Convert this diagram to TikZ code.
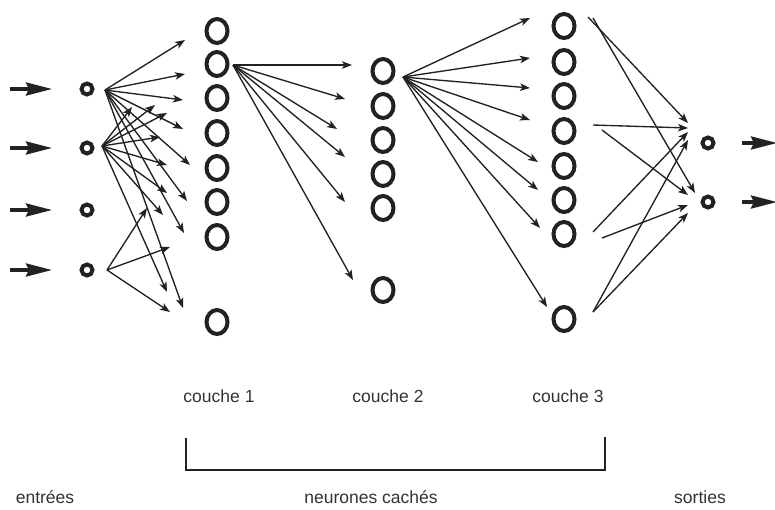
\documentclass[tikz,border=0pt]{standalone}
\usepackage{fontspec}
\setmainfont{Liberation Sans}
\usetikzlibrary{arrows.meta,calc,shapes.geometric}
\definecolor{ink}{HTML}{222222}
\definecolor{txt}{HTML}{333333}
\begin{document}
\begin{tikzpicture}[x=1pt,y=-1pt,
  bigc/.style={draw=ink, ellipse, line width=4pt, minimum width=21pt, minimum height=24pt, inner sep=0pt},
  smallc/.style={draw=ink, circle, line width=4pt, minimum size=11pt, inner sep=0pt},
  arr/.style={draw=ink, line width=1.35pt, -{Stealth[length=10pt,width=7.5pt,inset=2.5pt]}},
  inarr/.style={draw=ink, line width=3.4pt, -{Stealth[length=26pt,width=13pt,inset=3pt]}},
  lab/.style={text=txt, font=\fontsize{17.5}{20}\selectfont, anchor=base, inner sep=0pt},
  brk/.style={draw=ink, line width=1.3pt}]
\useasboundingbox (0,0) rectangle (775,509);
\fill[white] (0,0) rectangle (775,509);

% input nodes
\foreach \n/\y in {1/89,2/148,3/210,4/270} {
  \node[smallc] (i\n) at (87,\y) {};
  \coordinate (s\n) at (10,\y);
}
% layer 1
\foreach \n/\y in {1/31,2/64,3/98,4/133,5/168,6/202,7/237,8/322}
  \node[bigc] (a\n) at (217,\y) {};
% layer 2
\foreach \n/\y in {1/71,2/106,3/140,4/174,5/208,6/290}
  \node[bigc] (b\n) at (383,\y) {};
% layer 3
\foreach \n/\y in {1/26,2/62,3/96,4/131,5/166,6/200,7/234,8/319}
  \node[bigc] (c\n) at (564,\y) {};
% outputs
\foreach \n/\y in {1/143,2/202} {
  \node[smallc] (o\n) at (708,\y) {};
  \coordinate (e\n) at (777,\y);
}

% input arrows
\foreach \n in {1,2,3,4}
  \draw[inarr] (s\n) -- ($(i\n)+(-35,0)$);
% output arrows
\foreach \n in {1,2}
  \draw[inarr] ($(o\n)+(34,0)$) -- (e\n);

% input 1 -> layer 1
\foreach \t/\dx/\dy in {1/-32/9, 2/-32/10, 3/-34/2, 4/-34/-4, 5/-27/-3, 6/-30/-1, 7/-33/-4, 8/-34/-14}
  \draw[arr] ($(i1)+(18,1)$) -- ($(a\t)+(\dx,\dy)$);
% input 2 -> layer 1
\foreach \t/\dx/\dy in {1/-85/76, 2/-62/41, 3/-50/15, 4/-57/4, 5/-50/-3, 6/-50/-9, 7/-54/-22, 8/-50/-30}
  \draw[arr] ($(i2)+(15,-2)$) -- ($(a\t)+(\dx,\dy)$);
% input 4 -> layer 1
\foreach \t/\dx/\dy in {6/-70/6, 7/-47/10, 8/-47/-10}
  \draw[arr] ($(i4)+(20,0)$) -- ($(a\t)+(\dx,\dy)$);

% layer 1 -> layer 2
\foreach \t/\dx/\dy in {1/-31/-6, 2/-38/-7, 3/-46/-11, 4/-38/-17, 5/-38/-6, 6/-30/-10}
  \draw[arr] ($(a2)+(16,1)$) -- ($(b\t)+(\dx,\dy)$);

% layer 2 -> layer 3
\foreach \t/\dx/\dy in {1/-34/-8, 2/-34/-4, 3/-34/-8, 4/-34/-11, 5/-26/-4, 6/-26/-10, 7/-24/-6, 8/-17/-12}
  \draw[arr] ($(b1)+(20,6)$) -- ($(c\t)+(\dx,\dy)$);

% layer 3 -> outputs
\foreach \s/\sx/\sy/\t/\dx/\dy in {1/24/-9/1/-20/-20, 1/29/-8/2/-13/-9,
    4/29/-6/1/-20/-15, 4/38/-1/2/-20/-7,
    7/29/-2/1/-20/-11, 7/38/4/2/-20/3,
    8/29/-7/1/-20/-3, 8/29/-7/2/-20/11}
  \draw[arr] ($(c\s)+(\sx,\sy)$) -- ($(o\t)+(\dx,\dy)$);

% labels
\node[lab] (l1) at (219,402) {couche 1};
\node[lab] (l2) at (388,402) {couche 2};
\node[lab] (l3) at (568,402) {couche 3};
\node[lab] (lin) at (45,503) {entrées};
\node[lab] (lhid) at (371,503) {neurones cachés};
\node[lab] (lout) at (700,503) {sorties};

% bracket
\coordinate (bA) at (186,438);
\coordinate (bB) at (186,470);
\coordinate (bC) at (605,470);
\coordinate (bD) at (605,437);
\draw[brk] (bA) -- (bB) -- (bC) -- (bD);
\end{tikzpicture}
\end{document}
